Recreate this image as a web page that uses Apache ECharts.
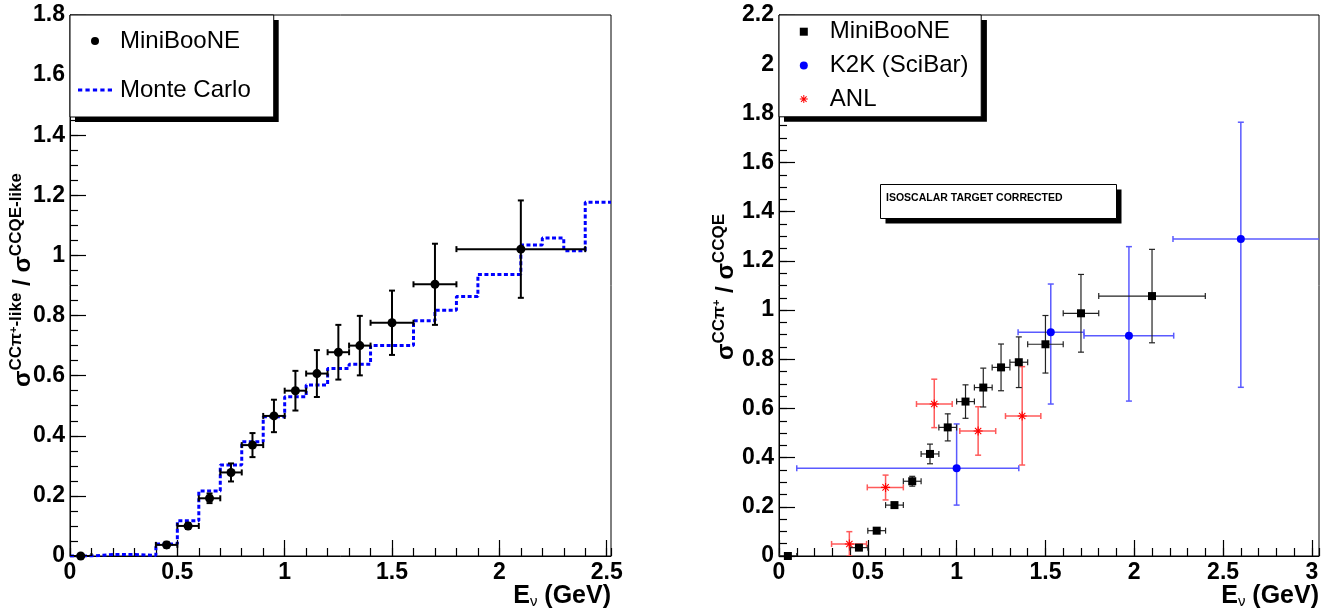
<!DOCTYPE html>
<html>
<head>
<meta charset="utf-8">
<script src="https://cdn.jsdelivr.net/npm/echarts@6/dist/echarts.min.js"></script>
<style>html,body{margin:0;padding:0;background:#fff}#c{width:1332px;height:615px}</style>
</head>
<body>
<div id="c"></div>
<script>
// ---------- Left panel: MiniBooNE CCπ+-like / CCQE-like ----------
const leftEnergy    = [0.05, 0.45, 0.55, 0.65, 0.75, 0.85, 0.95, 1.05, 1.15, 1.25, 1.35, 1.5, 1.7, 2.1];
const leftRatio     = [0.0, 0.037, 0.100, 0.192, 0.278, 0.369, 0.466, 0.550, 0.607, 0.678, 0.700, 0.776, 0.904, 1.021];
const leftEnergyErr = [0.05, 0.05, 0.05, 0.05, 0.05, 0.05, 0.05, 0.05, 0.05, 0.05, 0.05, 0.1, 0.1, 0.3];
const leftRatioErr  = [0.003, 0.010, 0.010, 0.016, 0.030, 0.040, 0.054, 0.066, 0.078, 0.091, 0.099, 0.107, 0.135, 0.162];

// Monte Carlo histogram (bin edges and bin contents)
const mcEdges = [0, 0.1, 0.2, 0.3, 0.4, 0.5, 0.6, 0.7, 0.8, 0.9, 1.0, 1.1, 1.2, 1.3, 1.4, 1.6, 1.7, 1.8, 1.9, 2.1, 2.2, 2.3, 2.4, 2.52];
const mcRatio = [0.0, 0.005, 0.005, 0.002, 0.040, 0.117, 0.216, 0.303, 0.380, 0.463, 0.530, 0.569, 0.624, 0.638, 0.700, 0.783, 0.818, 0.863, 0.937, 1.035, 1.058, 1.016, 1.177];

// ---------- Right panel: isoscalar corrected CCπ+ / CCQE ----------
const rightEnergy    = [0.05, 0.45, 0.55, 0.65, 0.75, 0.85, 0.95, 1.05, 1.15, 1.25, 1.35, 1.5, 1.7, 2.1];
const rightRatio     = [0.0, 0.034, 0.103, 0.207, 0.304, 0.415, 0.523, 0.628, 0.685, 0.767, 0.788, 0.861, 0.987, 1.057];
const rightEnergyErr = [0.05, 0.05, 0.05, 0.05, 0.05, 0.05, 0.05, 0.05, 0.05, 0.05, 0.05, 0.1, 0.1, 0.3];
const rightRatioErr  = [0.003, 0.008, 0.010, 0.010, 0.020, 0.040, 0.055, 0.068, 0.079, 0.095, 0.103, 0.117, 0.158, 0.190];

const k2kEnergy    = [1.0, 1.53, 1.97, 2.6];
const k2kRatio     = [0.357, 0.910, 0.896, 1.289];
const k2kEnergyMin = [0.1, 1.346, 1.717, 2.218];
const k2kEnergyMax = [1.35, 1.717, 2.222, 3.1];
const k2kRatioMin  = [0.207, 0.618, 0.630, 0.686];
const k2kRatioMax  = [0.537, 1.106, 1.258, 1.764];

const anlEnergy    = [0.396, 0.600, 0.874, 1.121, 1.369];
const anlRatio     = [0.049, 0.279, 0.618, 0.508, 0.569];
const anlEnergyMin = [0.296, 0.497, 0.774, 1.018, 1.275];
const anlEnergyMax = [0.493, 0.700, 0.975, 1.220, 1.474];
const anlRatioMin  = [0.0, 0.228, 0.522, 0.410, 0.370];
const anlRatioMax  = [0.099, 0.329, 0.719, 0.607, 0.770];

// Axis ranges
const leftXMax = 2.52, rightXMax = 3.04;
const leftYMax = 1.8, rightYMax = 2.2;

// ---------- helpers ----------
const FONT = '"Liberation Sans", Arial, Helvetica, sans-serif';
const sym = (x, y, xe, ye) => x.map((v, i) => [v, y[i], v - xe[i], v + xe[i], y[i] - ye[i], y[i] + ye[i]]);
const asym = (x, y, xl, xh, yl, yh) => x.map((v, i) => [v, y[i], xl[i], xh[i], yl[i], yh[i]]);
const pts = (x, y) => x.map((v, i) => [v, y[i]]);

function errorBars(color, width, cap) {
  return function (params, api) {
    const x = api.value(0), y = api.value(1);
    const pl = api.coord([api.value(2), y]), ph = api.coord([api.value(3), y]);
    const pb = api.coord([x, api.value(4)]), pt = api.coord([x, api.value(5)]);
    const st = { stroke: color, lineWidth: width };
    const ch = [];
    const L = (x1, y1, x2, y2) => ch.push({ type: 'line', shape: { x1, y1, x2, y2 }, style: st });
    if (ph[0] - pl[0] > 1) {
      L(pl[0], pl[1], ph[0], ph[1]);
      L(pl[0], pl[1] - cap, pl[0], pl[1] + cap);
      L(ph[0], ph[1] - cap, ph[0], ph[1] + cap);
    }
    if (pb[1] - pt[1] > 1) {
      L(pb[0], pb[1], pt[0], pt[1]);
      L(pb[0] - cap, pb[1], pb[0] + cap, pb[1]);
      L(pt[0] - cap, pt[1], pt[0] + cap, pt[1]);
    }
    return { type: 'group', children: ch };
  };
}

const STAR = 'path://M0,4.4H10V5.6H0Z M4.4,0H5.6V10H4.4Z M1.92,1.08L8.92,8.08L8.08,8.92L1.08,1.92Z M8.92,1.92L1.92,8.92L1.08,8.08L8.08,1.08Z';
const DASH = 'path://M0,0h4v3h-4z M7,0h4v3h-4z M14,0h4v3h-4z M21,0h4v3h-4z M28,0h4v3h-4z';

function majorX(gi, max) {
  return { type: 'value', gridIndex: gi, min: 0, max: max, interval: 0.5,
    axisLine: { show: true, onZero: false, lineStyle: { color: '#000', width: 1 } },
    axisTick: { show: true, inside: true, length: 16, lineStyle: { color: '#000', width: 1.2 } },
    axisLabel: { show: true, color: '#000', fontSize: 23, fontWeight: 'bold', fontFamily: FONT, margin: 5, showMaxLabel: false },
    splitLine: { show: false } };
}
function majorY(gi, max) {
  return { type: 'value', gridIndex: gi, min: 0, max: max, interval: 0.2,
    axisLine: { show: true, onZero: false, lineStyle: { color: '#000', width: 1 } },
    axisTick: { show: true, inside: true, length: 16, lineStyle: { color: '#000', width: 1.2 } },
    axisLabel: { show: true, color: '#000', fontSize: 23, fontWeight: 'bold', fontFamily: FONT, margin: 5 },
    splitLine: { show: false } };
}
function minorAxis(gi, max, interval) {
  return { type: 'value', gridIndex: gi, min: 0, max: max, interval: interval,
    axisLine: { show: false }, axisLabel: { show: false }, splitLine: { show: false },
    axisTick: { show: true, inside: true, length: 8, lineStyle: { color: '#000', width: 1.2 } } };
}

// MC histogram as step points
const mcPoints = mcRatio.map((v, i) => [mcEdges[i], v]);
mcPoints.push([mcEdges[mcEdges.length - 1], mcRatio[mcRatio.length - 1]]);

const titleRich = {
  m: { fontSize: 24, fontWeight: 'bold', fontFamily: FONT, lineHeight: 30, fill: '#000' },
  s: { fontSize: 17, fontWeight: 'bold', fontFamily: FONT, verticalAlign: 'top', fill: '#000' },
  p: { fontSize: 11, fontWeight: 'bold', fontFamily: FONT, verticalAlign: 'top', fill: '#000' }
};
const xTitleRich = {
  e: { fontSize: 25, fontWeight: 'bold', fontFamily: FONT, lineHeight: 26, fill: '#000' },
  n: { fontSize: 15, fontFamily: FONT, verticalAlign: 'bottom', fill: '#000' }
};

const legendCommon = {
  orient: 'vertical', selectedMode: false,
  backgroundColor: '#fff', borderColor: '#000', borderWidth: 1
};

const option = {
  animation: false,
  grid: [
    { left: 70, top: 15, width: 541, height: 541, show: true, borderColor: '#000', borderWidth: 1, backgroundColor: 'transparent' },
    { left: 779, top: 15, width: 540, height: 541, show: true, borderColor: '#000', borderWidth: 1, backgroundColor: 'transparent' },
    { left: 70, top: 15, width: 541, height: 541, show: false },
    { left: 779, top: 15, width: 540, height: 541, show: false }
  ],
  xAxis: [ majorX(0, leftXMax), majorX(1, rightXMax), minorAxis(2, leftXMax, 0.1), minorAxis(3, rightXMax, 0.1) ],
  yAxis: [ majorY(0, leftYMax), majorY(1, rightYMax), minorAxis(2, leftYMax, 0.05), minorAxis(3, rightYMax, 0.05) ],
  legend: [
    Object.assign({}, legendCommon, {
      left: 70, top: 15, z: 6,
      data: [ { name: 'MiniBooNE', icon: 'circle' }, { name: 'Monte Carlo', icon: DASH } ],
      itemWidth: 34, itemHeight: 8, itemGap: 23, padding: [13, 23, 14, 8],
      textStyle: { fontSize: 24, fontFamily: FONT, color: '#000', lineHeight: 26, padding: [0, 0, 0, 3] }
    }),
    Object.assign({}, legendCommon, {
      left: 779, top: 15, z: 6,
      data: [ { name: 'MiniBooNE', icon: 'rect' }, { name: 'K2K (SciBar)', icon: 'circle' }, { name: 'ANL', icon: STAR } ],
      itemWidth: 8, itemHeight: 8, itemGap: 7.7, padding: [3.7, 12.7, 4.7, 20.8],
      textStyle: { fontSize: 24, fontFamily: FONT, color: '#000', lineHeight: 26, padding: [0, 0, 0, 17] }
    })
  ],
  series: [
    { type: 'line', name: 'Monte Carlo', xAxisIndex: 0, yAxisIndex: 0, data: mcPoints, step: 'end',
      symbol: 'none', showSymbol: false, z: 2,
      lineStyle: { color: '#0000ff', width: 3, type: [4, 2.5] }, itemStyle: { color: '#0000ff' } },
    { type: 'custom', xAxisIndex: 0, yAxisIndex: 0, z: 3, clip: true,
      renderItem: errorBars('#000', 2, 3), data: sym(leftEnergy, leftRatio, leftEnergyErr, leftRatioErr) },
    { type: 'scatter', name: 'MiniBooNE', xAxisIndex: 0, yAxisIndex: 0, z: 4, clip: false,
      symbol: 'circle', symbolSize: 9, itemStyle: { color: '#000', opacity: 1 }, data: pts(leftEnergy, leftRatio) },

    { type: 'custom', xAxisIndex: 1, yAxisIndex: 1, z: 3, clip: true,
      renderItem: errorBars('#5a5aff', 1.5, 3), data: asym(k2kEnergy, k2kRatio, k2kEnergyMin, k2kEnergyMax, k2kRatioMin, k2kRatioMax) },
    { type: 'custom', xAxisIndex: 1, yAxisIndex: 1, z: 3, clip: true,
      renderItem: errorBars('#ff5a5a', 1.5, 3), data: asym(anlEnergy, anlRatio, anlEnergyMin, anlEnergyMax, anlRatioMin, anlRatioMax) },
    { type: 'custom', xAxisIndex: 1, yAxisIndex: 1, z: 3, clip: true,
      renderItem: errorBars('#222', 1.2, 3), data: sym(rightEnergy, rightRatio, rightEnergyErr, rightRatioErr) },
    { type: 'scatter', name: 'MiniBooNE', xAxisIndex: 1, yAxisIndex: 1, z: 4, clip: false,
      symbol: 'rect', symbolSize: 8, itemStyle: { color: '#000', opacity: 1 }, data: pts(rightEnergy, rightRatio) },
    { type: 'scatter', name: 'K2K (SciBar)', xAxisIndex: 1, yAxisIndex: 1, z: 4,
      symbol: 'circle', symbolSize: 8, itemStyle: { color: '#0000ff', opacity: 1 }, data: pts(k2kEnergy, k2kRatio) },
    { type: 'scatter', name: 'ANL', xAxisIndex: 1, yAxisIndex: 1, z: 4,
      symbol: STAR, symbolSize: 9, itemStyle: { color: '#ff0000', opacity: 1 }, data: pts(anlEnergy, anlRatio) }
  ],
  graphic: [
    // legend drop shadows (drawn below the legend boxes)
    { type: 'rect', z: 5, silent: true, shape: { x: 75, y: 20, width: 203.7, height: 102 }, style: { fill: '#000' } },
    { type: 'rect', z: 5, silent: true, shape: { x: 784, y: 20, width: 202.9, height: 101.8 }, style: { fill: '#000' } },
    // axis titles
    { type: 'text', x: 23, y: 280, rotation: Math.PI / 2, z: 100,
      style: { text: '{m|σ}{s|CCπ}{p|+}{s|-like}{m| / σ}{s|CCQE-like}', rich: titleRich, align: 'center', verticalAlign: 'middle' } },
    { type: 'text', x: 726, y: 287, rotation: Math.PI / 2, z: 100,
      style: { text: '{m|σ}{s|CCπ}{p|+}{m| / σ}{s|CCQE}', rich: titleRich, align: 'center', verticalAlign: 'middle' } },
    { type: 'text', x: 611, y: 583.5, z: 100,
      style: { text: '{e|E}{n|ν}{e| (GeV)}', rich: xTitleRich, align: 'right', verticalAlign: 'top' } },
    { type: 'text', x: 1319, y: 583.5, z: 100,
      style: { text: '{e|E}{n|ν}{e| (GeV)}', rich: xTitleRich, align: 'right', verticalAlign: 'top' } },
    // annotation box with shadow
    { type: 'rect', z: 99, silent: true, shape: { x: 885.5, y: 189.5, width: 236, height: 34 }, style: { fill: '#000' } },
    { type: 'rect', z: 100, shape: { x: 880.5, y: 184.5, width: 236, height: 34 },
      style: { fill: '#fff', stroke: '#000', lineWidth: 1 } },
    { type: 'text', x: 886, y: 198, z: 101,
      style: { text: 'ISOSCALAR TARGET CORRECTED', fontSize: 10.5, fontWeight: 'bold', fontFamily: FONT, fill: '#000', align: 'left', verticalAlign: 'middle' } }
  ]
};

const chart = echarts.init(document.getElementById('c'), null, { renderer: 'canvas' });
chart.setOption(option);
</script>
</body>
</html>
